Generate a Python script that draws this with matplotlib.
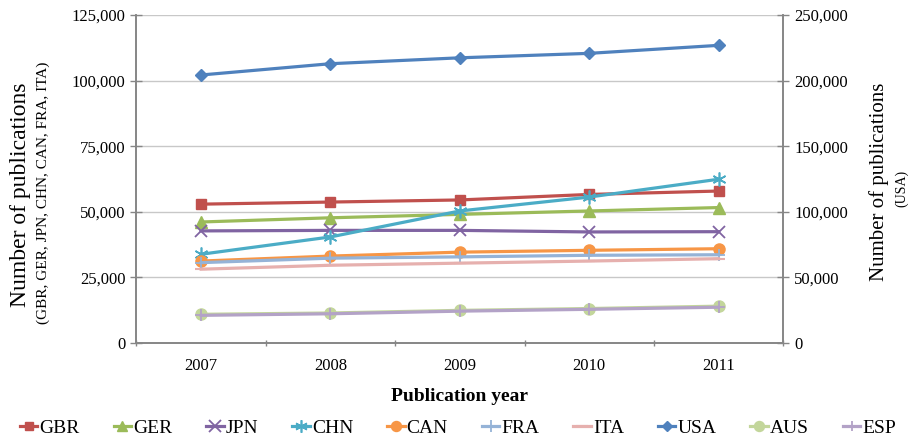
import matplotlib
matplotlib.use("Agg")
import matplotlib.pyplot as plt
from matplotlib.ticker import FuncFormatter, FixedLocator

plt.rcParams['font.family'] = ['Liberation Serif', 'DejaVu Serif']

# Publication years
years = ["2007", "2008", "2009", "2010", "2011"]

# Number of publications per country (left axis)
gbr = [52900, 53700, 54500, 56600, 57900]
ger = [46100, 47700, 49000, 50300, 51600]
jpn = [42700, 42900, 42900, 42300, 42400]
chn = [33800, 40400, 50300, 55600, 62400]
can = [31200, 33100, 34600, 35300, 35900]
fra = [30600, 32300, 32800, 33400, 33600]
ita = [28100, 29600, 30400, 31200, 32100]
aus = [10900, 11400, 12400, 13100, 14000]
esp = [10500, 11100, 12100, 12800, 13600]

# USA on the right axis
usa = [204300, 212900, 217400, 220800, 226900]

x = list(range(len(years)))

fig = plt.figure(figsize=(9.16, 4.43), dpi=100)
ax = fig.add_axes([0.149, 0.226, 0.706, 0.740])
ax2 = ax.twinx()

lw = 2.3
left_series = [
    ("GBR", gbr, "#C0504D", "s", 7, 1),
    ("GER", ger, "#9BBB59", "^", 8, 1),
    ("JPN", jpn, "#8064A2", "x", 9, 1.3),
    ("CHN", chn, "#4BACC6", (6, 2, 0), 10, 1.2),
    ("CAN", can, "#F79646", "o", 8, 1),
    ("FRA", fra, "#95B3D7", "+", 9, 1.3),
    ("ITA", ita, "#E6B0AE", "_", 9, 1.5),
]
handles = {}
for name, vals, col, mk, ms, mew in left_series:
    h, = ax.plot(x, vals, color=col, lw=lw, marker=mk, markersize=ms,
                 markeredgewidth=mew, label=name, zorder=3)
    handles[name] = h

h, = ax.plot(x, aus, color="#C3D69B", lw=lw, marker="o", markersize=8,
             label="AUS", zorder=3)
handles["AUS"] = h
h, = ax.plot(x, esp, color="#B3A2C7", lw=lw, marker="+", markersize=8,
             markeredgewidth=1.3, label="ESP", zorder=3)
handles["ESP"] = h

h, = ax2.plot(x, usa, color="#4F81BD", lw=lw, marker="D", markersize=6,
              label="USA", zorder=3)
handles["USA"] = h

# Axes limits and ticks
ax.set_xlim(-0.5, len(years) - 0.5)
ax.set_ylim(0, 125000)
ax2.set_ylim(0, 250000)
ax.set_yticks(range(0, 125001, 25000))
ax2.set_yticks(range(0, 250001, 50000))
fmt = FuncFormatter(lambda v, p: f"{int(v):,}")
ax.yaxis.set_major_formatter(fmt)
ax2.yaxis.set_major_formatter(fmt)

ax.set_xticks(x)
ax.set_xticklabels(years)
ax.xaxis.set_minor_locator(FixedLocator([i - 0.5 for i in range(len(years) + 1)]))
ax.tick_params(axis="x", which="major", length=0, labelsize=12, pad=11)
ax.tick_params(axis="x", which="minor", length=5, direction="inout",
               color="#868686", width=1)
ax.tick_params(axis="y", length=8, direction="inout", color="#868686",
               width=1, labelsize=12, pad=4)
ax2.tick_params(axis="y", length=8, direction="inout", color="#868686",
                width=1, labelsize=12, pad=4)

ax.yaxis.grid(True, color="#C8C8C8", lw=1)
ax.set_axisbelow(True)

for a in (ax, ax2):
    a.spines["top"].set_visible(False)
    for s in ("left", "right", "bottom"):
        a.spines[s].set_color("#868686")
        a.spines[s].set_linewidth(1.2)

# Axis labels
fig.text(0.022, 0.56, "Number of publications", rotation=90, fontsize=17,
         ha="center", va="center")
fig.text(0.047, 0.565, "(GBR, GER, JPN, CHN, CAN, FRA, ITA)", rotation=90,
         fontsize=11, ha="center", va="center")
fig.text(0.960, 0.59, "Number of publications", rotation=90, fontsize=15,
         ha="center", va="center")
fig.text(0.984, 0.575, "(USA)", rotation=90, fontsize=10,
         ha="center", va="center")
ax.set_xlabel("Publication year", fontsize=14, fontweight="bold", labelpad=10)

order = ["GBR", "GER", "JPN", "CHN", "CAN", "FRA", "ITA", "USA", "AUS", "ESP"]
fig.legend([handles[n] for n in order], order, loc="lower center",
           bbox_to_anchor=(0.5, -0.025), ncol=10, frameon=False, fontsize=14,
           handlelength=0.9, handletextpad=0.1, columnspacing=1.75,
           markerscale=0.9)

fig.savefig("out.png", dpi=100)
